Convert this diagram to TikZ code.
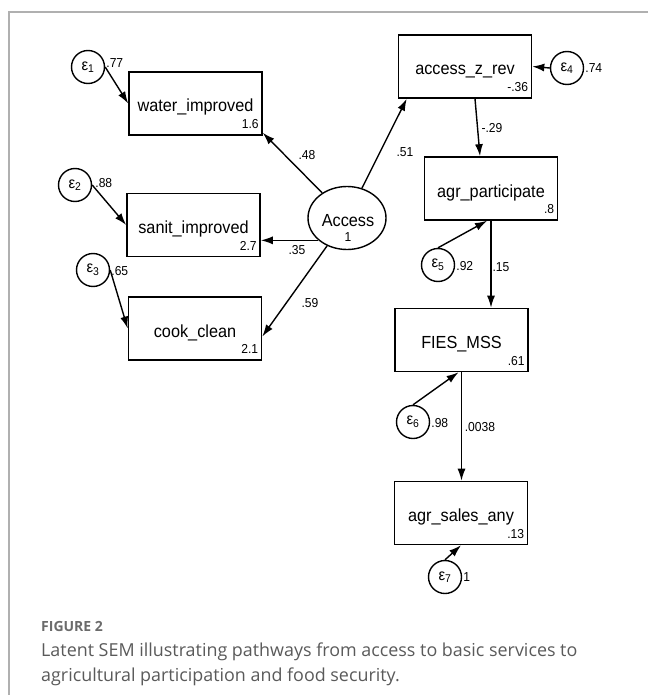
\documentclass[tikz,border=0pt]{standalone}
\usepackage{fontspec}
\setmainfont{Liberation Sans}
\newfontfamily\semfont[FakeStretch=0.93]{Liberation Sans}
\newfontfamily\capfont{Open Sans}
\usetikzlibrary{shapes.geometric,arrows.meta}
\definecolor{capgray}{HTML}{5A5A5A}
\definecolor{framegray}{HTML}{B0B0B0}

\begin{document}
\begin{tikzpicture}[x=1pt,y=-1pt]
\tikzstyle{every node}=[font=\semfont]
\tikzstyle{obs}=[draw,line width=1.6pt,minimum width=133pt,minimum height=63pt,
  text height=21pt,text depth=4pt,font=\semfont\fontsize{17.5}{20}\selectfont]
\tikzstyle{lat}=[draw,ellipse,line width=1.4pt,minimum width=78pt,minimum height=63pt]
\tikzstyle{err}=[draw,circle,line width=1.4pt,minimum size=33pt,inner sep=0pt,
  font=\semfont\fontsize{16}{18}\selectfont]
\tikzstyle{num}=[inner sep=1pt,font=\semfont\fontsize{13}{15}\selectfont]
\tikzstyle{arr}=[line width=1.4pt,-{Latex[length=12pt,width=8pt]}]
\useasboundingbox (0,0) rectangle (648,695);
\draw[framegray,line width=1.2pt] (648,12) -- (9,12) -- (9,695);

\node[obs] (W) at (195.5,103.5) {water\_improved};
\node[obs] (S) at (193.5,225) {sanit\_improved};
\node[obs] (C) at (195,328.5) {cook\_clean};
\node[obs] (Z) at (465,66.5) {access\_z\_rev};
\node[obs] (P) at (491,188.5) {agr\_participate};
\node[obs] (F) at (461.5,340) {FIES\_MSS};
\node[obs] (A) at (461,513) {agr\_sales\_any};
\node[lat] (L) at (347,218) {};
\node[font=\semfont\fontsize{17.5}{20}\selectfont] (Ln) at (348,220.5) {Access};
\node[num] (Lv) at (348,237) {1};

\node[num,anchor=base east] (Wv) at ([xshift=-3pt,yshift=7pt]W.south east) {1.6};
\node[num,anchor=base east] (Sv) at ([xshift=-3pt,yshift=7pt]S.south east) {2.7};
\node[num,anchor=base east] (Cv) at ([xshift=-3pt,yshift=7pt]C.south east) {2.1};
\node[num,anchor=base east] (Zv) at ([xshift=-3pt,yshift=7pt]Z.south east) {-.36};
\node[num,anchor=base east] (Pv) at ([xshift=-3pt,yshift=7pt]P.south east) {.8};
\node[num,anchor=base east] (Fv) at ([xshift=-3pt,yshift=7pt]F.south east) {.61};
\node[num,anchor=base east] (Av) at ([xshift=-3pt,yshift=7pt]A.south east) {.13};

\node[err] (e1) at (88,67) {ε\textsubscript{1}};
\node[err] (e2) at (75,185) {ε\textsubscript{2}};
\node[err] (e3) at (93,270) {ε\textsubscript{3}};
\node[err] (e4) at (567,68) {ε\textsubscript{4}};
\node[err] (e5) at (438,265) {ε\textsubscript{5}};
\node[err] (e6) at (413,422) {ε\textsubscript{6}};
\node[err] (e7) at (445,577) {ε\textsubscript{7}};

\node[num,anchor=west] (e1v) at ([yshift=4pt]e1.east) {.77};
\node[num,anchor=west] (e2v) at ([xshift=2pt,yshift=2pt]e2.east) {.88};
\node[num,anchor=west] (e3v) at ([yshift=-1pt]e3.east) {.65};
\node[num,anchor=west] (e4v) at (e4.east) {.74};
\node[num,anchor=west] (e5v) at ([yshift=-1pt]e5.east) {.92};
\node[num,anchor=west] (e6v) at ([yshift=-1pt]e6.east) {.98};
\node[num,anchor=west] (e7v) at (e7.east) {1};

\draw[arr] (e1.east) -- (W.west);
\draw[arr] (e2.east) -- (S.west);
\draw[arr] (e3.east) -- (C.west);
\draw[arr] (e4.west) -- (Z.east);
\draw[arr] (e5.north) -- ([xshift=-4pt]P.south);
\draw[arr] (e6.north) -- ([xshift=-3pt]F.south);
\draw[arr] (e7.north) -- (A.south);

\draw[arr] (L) -- ([yshift=3pt]W.south east);
\draw[arr] (L.218) -- (L.218 -| S.east);
\draw[arr] (L) -- ([yshift=-8pt]C.east);
\draw[arr] (L) -- ([xshift=9pt]Z.south west);
\draw[arr] ([xshift=10pt]Z.south) -- ([xshift=-11pt]P.north);
\draw[arr] (P.south) -- (P.south |- F.north);
\draw[arr] (F.south) -- (F.south |- A.north);

\node[num] (l1) at (307,155) {.48};
\node[num] (l2) at (297,250) {.35};
\node[num] (l3) at (310,303) {.59};
\node[num] (l4) at (405,152) {.51};
\node[num] (l5) at (492,128) {-.29};
\node[num] (l6) at (501,267) {.15};
\node[num] (l7) at (480,427) {.0038};

\node[anchor=base west,inner sep=0pt,text=capgray!90,font=\capfont\bfseries\fontsize{14}{16}\selectfont] (fig) at (41,631.7) {FIGURE 2};
\node[anchor=base west,inner sep=0pt,align=left,text=capgray,font=\capfont\fontsize{17.9}{25}\selectfont] (cap) at (41,681.7)
  {Latent SEM illustrating pathways from access to basic services to\\agricultural participation and food security.};
\end{tikzpicture}
\end{document}
